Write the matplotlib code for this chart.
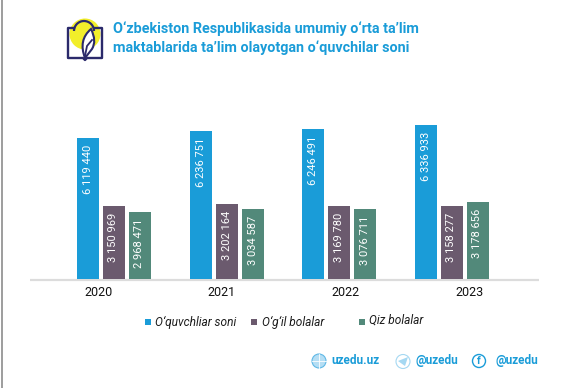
import matplotlib
matplotlib.use('Agg')
import matplotlib.pyplot as plt
from matplotlib import font_manager
from matplotlib.patches import Circle, Polygon, PathPatch, Arc
from matplotlib.path import Path
import numpy as np

W, H = 563, 388
BLUE = '#1a9cd8'
PURPLE = '#6b5a6e'
GREEN = '#52897a'
NAVY = '#2b2a6b'

years = ['2020', '2021', '2022', '2023']
# heights as drawn in the picture (they do not quite follow the printed numbers)
total_h = [5.80, 6.09, 6.17, 6.34]
boys_h = [3.00, 3.09, 3.00, 3.00]
girls_h = [2.76, 2.88, 2.88, 3.17]
total_lab = ['6 119 440', '6 236 751', '6 246 491', '6 336 933']
boys_lab = ['3 150 969', '3 202 164', '3 169 780', '3 158 277']
girls_lab = ['2 968 471', '3 034 587', '3 076 711', '3 178 656']
series_names = ["O\u2018quvchliar soni", "O\u2018g\u2018il bolalar", "Qiz bolalar"]

plt.rcParams['font.family'] = ['Roboto', 'DejaVu Sans']

# narrow face for the numbers, if it is there
names = {f.name for f in font_manager.fontManager.ttflist}
NARROW = 'Liberation Sans Narrow' if 'Liberation Sans Narrow' in names else 'Roboto'

fig = plt.figure(figsize=(W / 100, H / 100), dpi=100)

# overlay in pixel coordinates for everything that is not the chart
bg = fig.add_axes([0, 0, 1, 1])
bg.set_xlim(0, W)
bg.set_ylim(H, 0)
bg.axis('off')

bg.plot([1.5, 1.5], [0, H], color='#8c8c8c', lw=1.2)
bg.plot([30, 539], [279.5, 279.5], color='#dcdcdc', lw=1.6, solid_capstyle='butt')

# logo
bg.add_patch(Circle((85, 34), 15.5, color='#f2ee2a', lw=0))
bg.add_patch(Arc((84, 31), 20, 20, theta1=180, theta2=360, color=NAVY, lw=1.6))
bg.plot([74, 68, 68, 83, 85, 87, 102, 102, 94], [28, 28, 58, 58, 60, 58, 58, 28, 28], color=NAVY, lw=1.7)
leaf = Path([(85, 58), (78, 40), (91, 29), (97, 41), (92, 49), (85, 58)],
            [Path.MOVETO, Path.CURVE3, Path.CURVE3, Path.CURVE3, Path.CURVE3, Path.CLOSEPOLY])
bg.add_patch(PathPatch(leaf, fc='white', ec=NAVY, lw=1.5))
bg.plot([85, 87, 92], [56, 46, 40], color=NAVY, lw=1.3)

bg.text(113, 29, "O\u2018zbekiston Respublikasida umumiy o\u2018rta ta\u2019lim", color=BLUE,
        fontsize=10.4, fontweight='bold', va='center', ha='left')
bg.text(113, 48, "maktablarida ta\u2019lim olayotgan o\u2018quvchilar soni", color=BLUE,
        fontsize=10.4, fontweight='bold', va='center', ha='left')

# bars
ax = fig.add_axes([60 / W, 1 - 279 / H, 445 / W, 154 / H])
ax.set_xlim(60, 505)
ax.set_ylim(0, 6.34)
ax.axis('off')
ax.patch.set_alpha(0)

group_x = np.array([77, 190, 302, 415])
offsets = [0, 25.5, 51.5]
colors = [BLUE, PURPLE, GREEN]
heights = [total_h, boys_h, girls_h]
labels = [total_lab, boys_lab, girls_lab]
for s in range(3):
    for i in range(len(years)):
        x = group_x[i] + offsets[s]
        ax.bar(x, heights[s][i], width=22, align='edge', color=colors[s])
        ax.annotate(labels[s][i], (x + 11, heights[s][i]), xytext=(0, -5), textcoords='offset points',
                    rotation=90, color='white', fontsize=8, family=NARROW, ha='center', va='top')

year_x = [99, 222, 346, 470]
for i, y in enumerate(years):
    bg.text(year_x[i], 292, y, fontsize=9, ha='center', va='center', color='#111111', family=NARROW)

# legend
leg_x = [145, 251, 359]
leg_tx = [155, 262, 369]
leg_ty = [322.5, 322.5, 320.5]
for k in range(3):
    bg.add_patch(Polygon([(leg_x[k], 319), (leg_x[k] + 6, 319), (leg_x[k] + 6, 325), (leg_x[k], 325)],
                         color=colors[k], lw=0))
    bg.text(leg_tx[k], leg_ty[k], series_names[k], fontsize=8.6, style='italic', va='center', ha='left', color='#1c1c1c')

# footer
bg.text(331, 361, 'uzedu.uz', color=BLUE, fontsize=8.5, fontweight='bold', va='center', ha='left')
bg.text(416, 360.5, '@uzedu', color=BLUE, fontsize=8.5, fontweight='bold', va='center', ha='left')
bg.text(495, 360.5, '@uzedu', color=BLUE, fontsize=8.5, fontweight='bold', va='center', ha='left')
bg.add_patch(Circle((319, 361), 7, fc='#b5def4', ec='#5fb8e6', lw=0.8))
bg.plot([312, 326], [361, 361], color='white', lw=0.6)
bg.plot([319, 319], [354, 368], color='white', lw=0.6)
bg.add_patch(Circle((403, 361.5), 7, fc='white', ec='#a5d8f2', lw=0.8))
bg.add_patch(Polygon([(398, 361), (408, 357), (405, 366)], fc='#a5d8f2', lw=0))
bg.add_patch(Circle((479, 361), 6.5, fc='white', ec=BLUE, lw=1))
bg.text(479, 361, 'f', color=BLUE, fontsize=7.5, fontweight='bold', ha='center', va='center')

fig.savefig('out.png', dpi=100)
